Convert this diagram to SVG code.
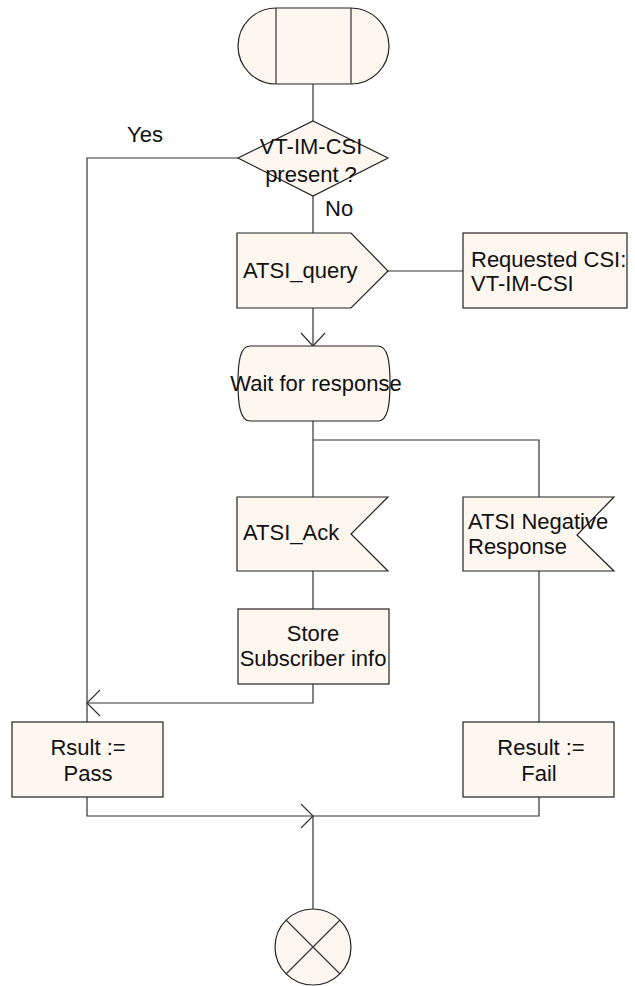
<svg xmlns="http://www.w3.org/2000/svg" width="635" height="986" viewBox="0 0 635 986">
<style>
.s{fill:#FDF7F0;stroke:#222;stroke-width:1.2}
.l{fill:none;stroke:#333;stroke-width:1.2}
text{font-family:"Liberation Sans",Arial,sans-serif;font-size:22px;fill:#111}
.c{text-anchor:middle}
</style>
<rect width="635" height="986" fill="#fff"/>
<g id="connectors">
<path class="l" d="M313,84 V121"/>
<path class="l" d="M238,158 H87 V722"/>
<path class="l" d="M313,196 V233"/>
<path class="l" d="M388,271 H463"/>
<path class="l" d="M313,308 V346"/>
<path class="l" d="M301,333 L313,346 L325,333"/>
<path class="l" d="M313,421 V497"/>
<path class="l" d="M313,440 H539 V497"/>
<path class="l" d="M313,571 V609"/>
<path class="l" d="M313,684 V703 H87"/>
<path class="l" d="M100,690 L87,703 L100,716"/>
<path class="l" d="M539,571 V722"/>
<path class="l" d="M87,797 V816 H539 V797"/>
<path class="l" d="M301,804 L313,816 L301,828"/>
<path class="l" d="M313,816 V909"/>
<text x="127" y="142">Yes</text>
<text x="325" y="216">No</text>
</g>
<g id="start">
<path class="s" d="M276,8 H351 A38,38 0 0 1 351,84 H276 A38,38 0 0 1 276,8 Z"/>
<path class="l" d="M276,8 V84 M351,8 V84"/>
</g>
<g id="decision">
<path class="s" d="M313,121 L388,158 L313,196 L238,158 Z"/>
<text class="c" x="311" y="154">VT-IM-CSI</text>
<text class="c" x="311" y="182">present ?</text>
</g>
<g id="atsi_query">
<path class="s" d="M237,233 H351 L388,271 L351,308 H237 Z"/>
<text x="243" y="278">ATSI_query</text>
</g>
<g id="requested">
<rect class="s" x="463" y="233" width="164" height="75"/>
<text x="471" y="267">Requested CSI:</text>
<text x="471" y="291">VT-IM-CSI</text>
</g>
<g id="wait">
<path class="s" d="M250,346 H378 C388,346 390,362 390,383 C390,404 388,421 378,421 H250 C240,421 238,404 238,383 C238,362 240,346 250,346 Z"/>
<text class="c" x="316" y="391">Wait for response</text>
</g>
<g id="atsi_ack">
<path class="s" d="M237,497 H388 L351,534 L388,571 H237 Z"/>
<text x="243" y="540">ATSI_Ack</text>
</g>
<g id="atsi_neg">
<path class="s" d="M463,497 H614 L577,535 L614,571 H463 Z"/>
<text x="468" y="529">ATSI Negative</text>
<text x="468" y="554">Response</text>
</g>
<g id="store">
<rect class="s" x="238" y="609" width="151" height="75"/>
<text class="c" x="313" y="641">Store</text>
<text class="c" x="313" y="666">Subscriber info</text>
</g>
<g id="pass">
<rect class="s" x="12" y="722" width="151" height="75"/>
<text class="c" x="88" y="755">Rsult :=</text>
<text class="c" x="88" y="781">Pass</text>
</g>
<g id="fail">
<rect class="s" x="463" y="722" width="151" height="75"/>
<text class="c" x="541" y="755">Result :=</text>
<text class="c" x="539" y="781">Fail</text>
</g>
<g id="stop">
<circle class="s" cx="313" cy="947" r="38"/>
<path class="l" d="M286,920 L340,974 M340,920 L286,974"/>
</g>
</svg>
